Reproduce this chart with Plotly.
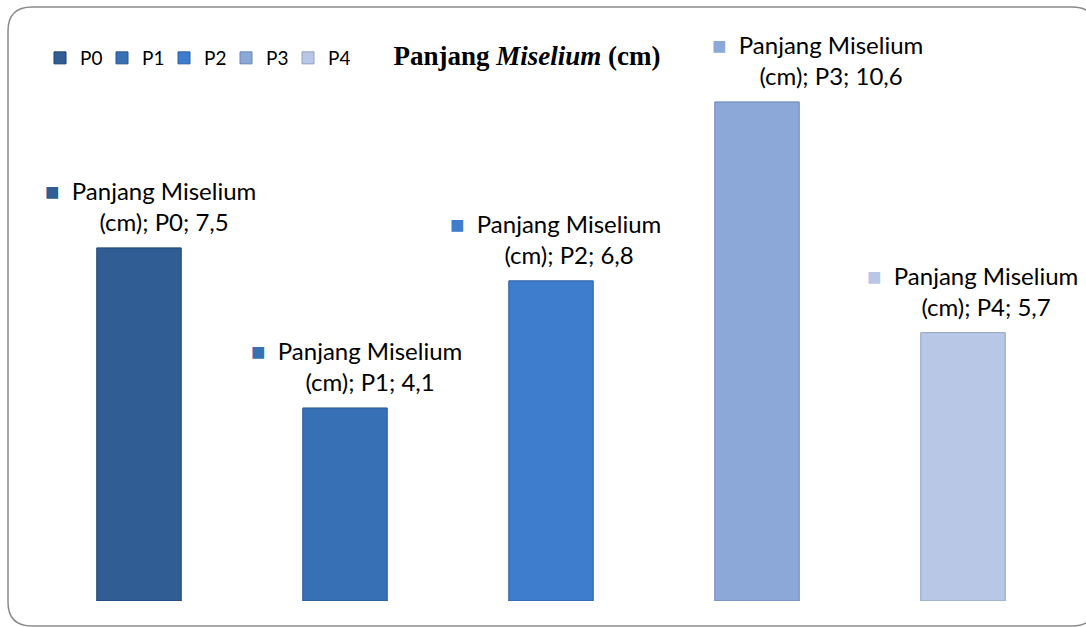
import plotly.graph_objects as go

categories = ["P0", "P1", "P2", "P3", "P4"]
values = [7.5, 4.1, 6.8, 10.6, 5.7]
value_text = ["7,5", "4,1", "6,8", "10,6", "5,7"]
series_name = "Panjang Miselium"
series_unit = "(cm)"
bar_colors = ["#2F5D94", "#3870B6", "#3E7CCD", "#8BA8D9", "#B8C7E6"]
edge_colors = ["#1E416C", "#28568F", "#2C60A4", "#6A86B6", "#8FA0C2"]
label_xshift = [19, 19, 12, 68, 17]

W, H = 1086, 627
ML, MR, MT, MB = 36, 20, 36, 26
PLOT_H = H - MT - MB

fig = go.Figure()
for cat, val, col, edge in zip(categories, values, bar_colors, edge_colors):
    fig.add_trace(go.Bar(
        x=[cat], y=[val], name=cat, width=0.41,
        marker=dict(color=col, line=dict(color=edge, width=1)),
        hovertemplate="%{x}: %{y}<extra></extra>",
    ))

annotations = []
for cat, val, txt, col, dx in zip(categories, values, value_text, bar_colors, label_xshift):
    label = (f"<span style='color:{col}'>■</span>  {series_name}<br>"
             f"<span style='color:rgba(0,0,0,0)'>■</span>  {series_unit}; {cat}; {txt}")
    annotations.append(dict(
        x=cat, y=val, xref="x", yref="y", text=label, showarrow=False,
        xanchor="center", yanchor="bottom", xshift=dx - 8, yshift=10,
        align="center", font=dict(family="Lato", size=24, color="#000000"),
    ))

# rounded outer frame (pixels relative to the plot-area origin)
x0, x1 = 8 - ML, 1096 - ML
yt, yb = (H - MB) - 7, (H - MB) - 626
r = 24
frame = (f"M {x0 + r},{yt} L {x1 - r},{yt} Q {x1},{yt} {x1},{yt - r} "
         f"L {x1},{yb + r} Q {x1},{yb} {x1 - r},{yb} L {x0 + r},{yb} "
         f"Q {x0},{yb} {x0},{yb + r} L {x0},{yt - r} Q {x0},{yt} {x0 + r},{yt} Z")

fig.update_layout(
    width=W, height=H,
    margin=dict(l=ML, r=MR, t=MT, b=MB, autoexpand=False),
    paper_bgcolor="white", plot_bgcolor="white",
    barmode="overlay",
    title=dict(
        text="<b>Panjang <i>Miselium</i> (cm)</b>",
        xref="container", yref="container", x=527 / W, y=1 - 56 / H,
        xanchor="center", yanchor="middle",
        font=dict(family="Liberation Serif", size=27, color="#000000"),
    ),
    legend=dict(
        orientation="h", xref="paper", yref="paper",
        x=(40 - ML) / (W - ML - MR), y=1 - (58 - MT) / PLOT_H,
        xanchor="left", yanchor="middle",
        font=dict(family="Lato", size=19, color="#000000"),
        itemwidth=30, entrywidth=17, entrywidthmode="pixels",
        bgcolor="rgba(0,0,0,0)",
    ),
    xaxis=dict(visible=False, range=[-0.5, 4.5], categoryorder="array",
               categoryarray=categories),
    yaxis=dict(visible=False, range=[0, 12]),
    annotations=annotations,
    shapes=[dict(type="path", xref="paper", yref="paper",
                 xsizemode="pixel", ysizemode="pixel", xanchor=0, yanchor=0,
                 path=frame, line=dict(color="#8A8A8A", width=1.5),
                 fillcolor="rgba(0,0,0,0)", layer="above")],
)

fig.write_html("out.html")
